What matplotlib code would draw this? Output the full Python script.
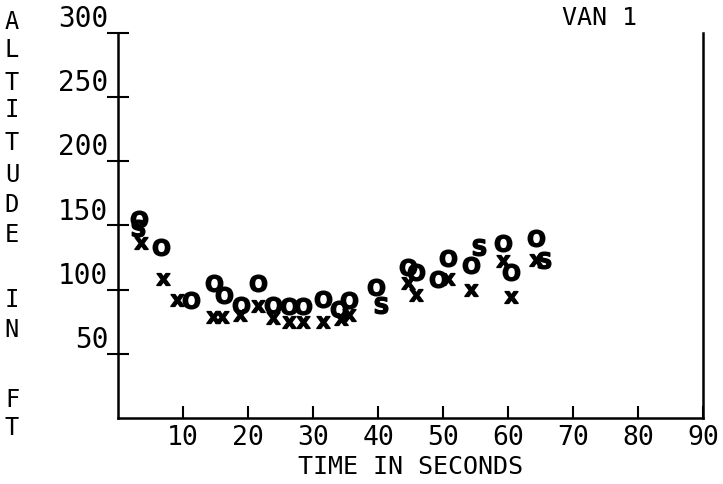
import matplotlib
matplotlib.use("Agg")
import matplotlib.pyplot as plt

# ---- data ----
o_time = [3.2, 6.6, 11.2, 14.8, 16.3, 18.9, 21.5, 23.8, 26.3, 28.5, 31.5, 34.0, 35.5,
          39.7, 44.6, 45.8, 49.2, 50.8, 54.3, 59.2, 60.5, 64.3]
o_alt = [155, 133, 92, 105, 96, 88, 105, 88, 87, 87, 93, 85, 92,
         102, 118, 114, 108, 125, 119, 136, 114, 140]

x_time = [3.5, 6.9, 9.0, 14.6, 16.0, 18.7, 21.5, 23.8, 26.3, 28.5, 31.5, 34.3, 35.5,
          44.6, 45.8, 50.8, 54.3, 59.2, 60.5, 64.3]
x_alt = [136, 108, 92, 79, 79, 80, 87, 78, 75, 75, 75, 77, 80,
         105, 96, 108, 100, 122, 94, 123]

s_time = [3.0, 40.5, 55.5, 65.5]
s_alt = [148, 88, 133, 123]

xticks = [10, 20, 30, 40, 50, 60, 70, 80, 90]
yticks = [50, 100, 150, 200, 250, 300]
ylabel_letters = ["A", "L", "T", "I", "T", "U", "D", "E", "I", "N", "F", "T"]
title_text = "VAN 1"
xlabel_text = "TIME IN SECONDS"

# ---- figure ----
W, H = 723, 484
fig = plt.figure(figsize=(W / 100, H / 100), dpi=100)
fig.patch.set_facecolor("white")
L, R, B, T = 118, 703, 418, 33
ax = fig.add_axes([L / W, 1 - B / H, (R - L) / W, (B - T) / H])
ax.set_xlim(0, 90)
ax.set_ylim(0, 300)
mono = "DejaVu Sans Mono"

ms = 12
ax.plot(o_time, o_alt, linestyle="none", marker=r"$\mathbf{O}$", color="black", markersize=ms)
ax.plot(x_time, x_alt, linestyle="none", marker=r"$\mathbf{x}$", color="black", markersize=ms * 0.8)
ax.plot(s_time, s_alt, linestyle="none", marker=r"$\mathbf{S}$", color="black", markersize=ms)

ax.spines["top"].set_visible(False)
for side in ["left", "right", "bottom"]:
    ax.spines[side].set_linewidth(1.8)
    ax.spines[side].set_color("black")

ax.set_xticks(xticks)
ax.set_xticklabels([str(v) for v in xticks], fontfamily=mono, fontsize=19)
ax.set_yticks(yticks)
ax.set_yticklabels([str(v) for v in yticks], fontfamily=mono, fontsize=20)
ax.tick_params(axis="x", direction="in", length=9, width=1.5, pad=5)
ax.tick_params(axis="y", direction="inout", length=16, width=1.5, pad=-1)
for lab in ax.get_yticklabels():
    lab.set_verticalalignment("bottom")

ax.text(0.5, -0.128, xlabel_text, transform=ax.transAxes, ha="center", va="center",
        fontfamily=mono, fontsize=18)
fig.text(600 / W, 1 - 18 / H, title_text, ha="center", va="center",
         fontfamily=mono, fontsize=18)

letter_y = [22, 50, 83, 110, 143, 175, 205, 235, 300, 330, 400, 428]
for ch, yy in zip(ylabel_letters, letter_y):
    fig.text(12 / W, 1 - yy / H, ch, ha="center", va="center", fontfamily=mono, fontsize=17)

fig.savefig("out.png", dpi=100, facecolor="white")
